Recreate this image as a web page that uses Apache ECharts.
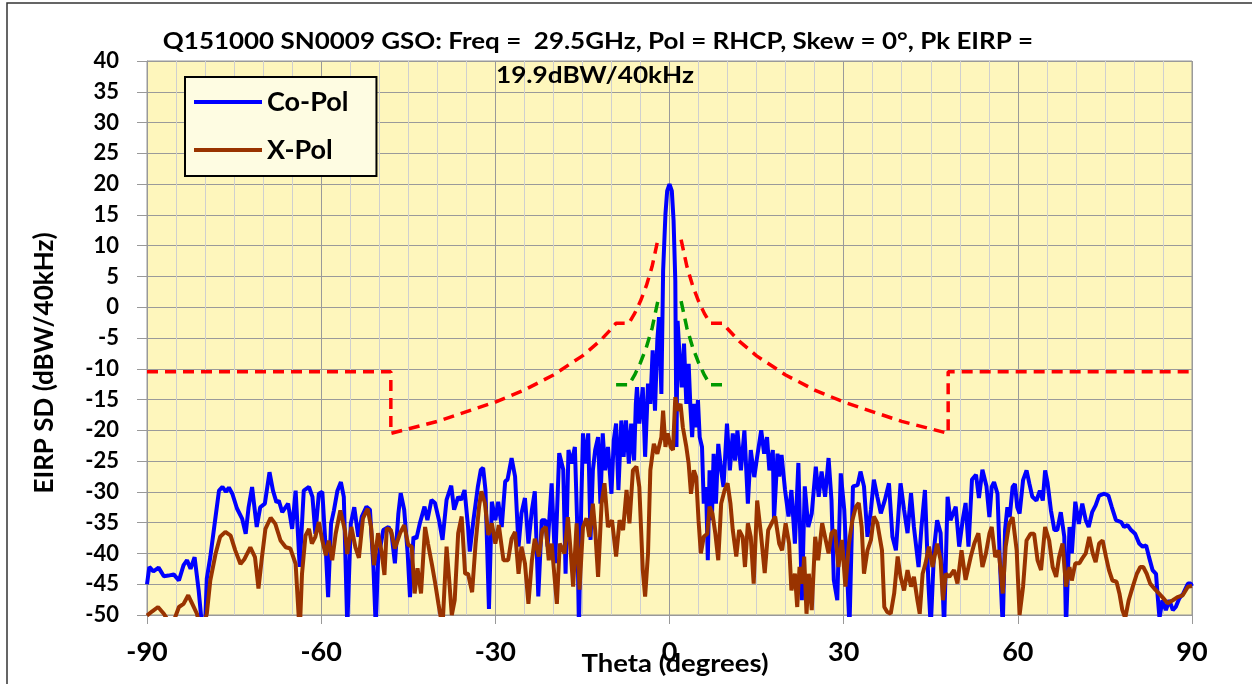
<!DOCTYPE html>
<html>
<head>
<meta charset="utf-8">
<script src="https://cdn.jsdelivr.net/npm/echarts@6/dist/echarts.min.js"></script>
<style>
html,body{margin:0;padding:0;background:#fff;}
#chart{width:1252px;height:684px;}
</style>
</head>
<body>
<div id="chart"></div>
<script>
// ---------- DATA ----------
const titleLine1 = 'Q151000 SN0009 GSO: Freq =  29.5GHz, Pol = RHCP, Skew = 0°, Pk EIRP =';
const titleLine2 = '19.9dBW/40kHz';
const xAxisTitle = 'Theta (degrees)';
const yAxisTitle = 'EIRP SD (dBW/40kHz)';
const seriesNames = ['Co-Pol', 'X-Pol'];

const coPolTheta = [-90,-89.6,-88.9,-88,-87.1,-86.3,-85.4,-84.5,-83.7,-83.1,-82.5,-81.8,-81.1,-80.5,-80,-79.7,-79.1,-78.2,-77.6,-77,-76.4,-75.9,-75.3,-74.5,-73.6,-73,-72.5,-71.9,-71.1,-70.5,-69.7,-68.9,-68.3,-67.7,-67.3,-66.7,-65.7,-65,-64.4,-63.7,-63,-62.1,-61.5,-61,-60.4,-59.8,-59.2,-58.8,-58.3,-57.8,-57.2,-56.6,-56.1,-55.5,-54.9,-54.3,-53.6,-53,-52.2,-51.6,-51,-50.6,-50.2,-49.3,-48.4,-47.9,-47.3,-46.7,-46.3,-45.7,-45.1,-44.7,-44.1,-43.6,-43,-42.2,-41.7,-41,-40.4,-39.7,-39.1,-38.4,-37.6,-37.1,-36.4,-35.9,-35.3,-34.7,-34.4,-33.8,-33,-32.5,-32.1,-31.7,-31.1,-30.6,-30,-29.5,-28.9,-28.3,-27.9,-27.2,-26.6,-26,-25.5,-24.9,-24.3,-23.7,-23.2,-22.6,-22,-21.4,-21,-20.3,-19.7,-19,-18.3,-17.9,-17.4,-16.9,-16.3,-15.9,-15.6,-15.2,-14.9,-14.5,-14,-13.6,-13.2,-12.8,-12.3,-11.9,-11.5,-11.1,-10.6,-10,-9.6,-9.2,-8.8,-8.3,-7.9,-7.5,-7,-6.6,-6.1,-5.8,-5.6,-5.2,-4.6,-4.2,-3.7,-3.3,-2.9,-2.5,-2.1,-1.8,-1.4,-1.1,-0.7,-0.4,0,0.4,0.7,1,1.2,1.4,1.8,2.1,2.5,2.9,3.3,3.6,3.9,4.2,4.6,4.9,5.2,5.6,5.9,6.3,6.6,6.9,7.3,7.6,8,8.4,8.9,9.3,9.9,10.4,10.9,11.3,11.7,12.3,12.9,13.5,14,14.6,15.1,15.8,16.3,16.8,17.2,17.8,18,18.6,18.9,19.3,19.9,20.5,21,21.6,22.2,22.8,23.3,23.9,24.5,25.2,25.7,26.2,26.8,27.4,27.9,28.3,28.9,29.5,30.1,30.6,31,31.6,32.4,32.9,33.5,34.1,34.7,35.2,35.8,36.4,37.1,37.8,38.4,39,39.8,40.4,41,41.6,42.1,42.9,43.4,44,44.6,45,45.6,46.1,46.7,47.3,47.9,48.4,49.3,49.9,50.5,51,51.5,52.1,52.8,53.3,53.9,54.6,55.1,55.5,55.9,56.5,56.9,57.4,57.8,58.2,58.6,59.1,59.5,59.9,60.3,60.9,61.5,62,62.5,63.2,63.8,64.3,64.7,65.1,65.7,66.3,66.8,67.4,68,68.3,68.9,69.3,69.9,70.5,71.1,71.7,72.2,72.8,73.4,74,74.9,75.6,76.2,76.9,77.8,78.3,78.9,79.5,80.2,80.9,81.5,82.1,82.6,83.2,83.8,84.1,84.4,84.9,85.5,86.1,86.7,87.2,87.8,88.5,89.3,89.8,90];
const coPolEirp = [-45,-42.2,-42.9,-42.3,-43.7,-43.6,-43.4,-44.4,-41.9,-41.1,-42.5,-40.6,-46,-52,-52,-44.1,-40.6,-34.1,-29.8,-29.2,-30,-29.3,-30.3,-32.7,-34.4,-36.8,-32.5,-29.2,-35.7,-32.5,-31.9,-26.8,-29.8,-31.7,-31.4,-33.3,-31.9,-36,-29.8,-42.2,-29.8,-29.2,-30.8,-36.8,-30.3,-30,-39.5,-47.1,-35.2,-33,-29.8,-28.4,-30.8,-52,-35.2,-32.5,-37.3,-34,-32.4,-32.9,-42.2,-52,-41.1,-36.2,-35.7,-36.7,-41.6,-33.5,-30.2,-32.9,-40,-47.1,-37.3,-37.6,-35.1,-32.4,-34.6,-31.3,-31.8,-34.6,-37.8,-31.3,-29,-32.9,-30.8,-31.3,-29.7,-35.7,-39.7,-34.8,-29.1,-26.4,-26.1,-29.7,-49,-31.6,-34.6,-31.6,-35.7,-28.3,-28,-24.5,-27.5,-38.9,-33.5,-31,-38.4,-32.9,-29.9,-47,-34.6,-34.6,-38.9,-28.6,-41.6,-23.7,-26.4,-43.3,-23.2,-25.4,-22.7,-35.1,-52,-31.9,-20.5,-25.4,-20.5,-37.8,-26.5,-23.2,-21.1,-31.9,-20.5,-26.5,-22.7,-30.3,-21.6,-18.9,-29.7,-18.4,-24.3,-18.4,-25.4,-18.9,-24.9,-15.7,-13,-18.9,-13,-24.3,-12.4,-15.7,-7,-16.8,-5.4,-1.6,-14.1,5.9,15.1,18.9,20,18.9,14.1,4.3,-22.7,-2.2,-9.2,-13,-5.9,-15.7,-9.2,-16.2,-21.1,-15.7,-19.5,-15.1,-21.1,-22.7,-31.9,-29.2,-41.1,-26.5,-34.6,-23.8,-31.9,-22.2,-26.5,-29.2,-18.9,-26.5,-20.5,-24.9,-20,-26.5,-20,-31.9,-23.2,-27.6,-24.3,-20,-23.8,-21.1,-26.5,-23.2,-34.6,-23.8,-27.5,-24,-29.7,-34,-29.7,-38.4,-25.3,-47.6,-29.1,-35.7,-33.5,-25.9,-30.8,-26.7,-30.8,-24.5,-31.3,-44.3,-47.6,-27,-32.9,-43.3,-52,-29.1,-28.9,-26.7,-29.1,-37.3,-32.9,-28,-30.8,-33.5,-31.3,-28.6,-37.3,-39.5,-28.6,-32.9,-36.7,-30.2,-35.7,-42.2,-35.7,-29.7,-44.9,-52,-38.9,-34.6,-36.7,-52,-30.8,-34.6,-32.4,-38.9,-34.6,-31.8,-38.9,-28,-27.2,-31,-26.4,-29.1,-34.1,-29.2,-28.4,-30.3,-41.1,-52,-36.2,-32.5,-34.1,-29.2,-28.7,-32.5,-33.5,-28.1,-26.5,-28.7,-30.8,-31.4,-29.8,-31.4,-26.5,-28.4,-33,-36.2,-36.2,-33.3,-37.3,-52,-35.7,-40,-31.6,-35.2,-31.9,-34.6,-35.7,-33.3,-32.2,-30.6,-30.3,-30.6,-32.5,-34.6,-34.9,-35.7,-35.4,-36.2,-36.8,-38.4,-38.9,-38.7,-40.6,-42.7,-43.3,-47.1,-50.5,-47.6,-49.2,-47.6,-49.2,-48.7,-47.3,-46.5,-44.9,-44.9,-45.3];

const xPolTheta = [-90,-89.1,-88.1,-87.1,-86.3,-85.4,-84.5,-83.7,-82.9,-82.2,-81.4,-80.6,-79.7,-79.1,-78.2,-77.4,-76.5,-75.6,-74.8,-73.9,-73.2,-72.2,-71.4,-70.8,-70.2,-69.6,-68.7,-67.9,-67,-66.1,-65.3,-64.4,-63.7,-63.3,-62.7,-62.1,-61.6,-61,-60.4,-59.8,-59.2,-58.7,-58.1,-57.5,-56.7,-55.9,-55.5,-54.8,-54.1,-53.5,-52.8,-52,-51.4,-50.9,-50.2,-49.6,-49.1,-48.7,-48,-47.3,-46.4,-45.7,-45,-44.4,-43.9,-43.4,-42.8,-42.1,-41.6,-40.9,-40.4,-39.8,-39.1,-38.4,-37.9,-37.5,-37,-36.4,-35.8,-35.2,-34.7,-34,-33.4,-32.8,-32.4,-31.8,-31.2,-30.6,-30,-29.4,-28.6,-27.8,-27.2,-26.6,-26,-25.5,-24.9,-24.3,-23.7,-23.2,-22.5,-21.9,-21.3,-20.8,-20.3,-19.4,-18.9,-18.1,-17.5,-17,-16.6,-16,-15.5,-14.9,-14.3,-13.8,-13.2,-12.8,-12.3,-11.7,-11.2,-10.6,-9.9,-9.2,-8.6,-8,-7.4,-6.9,-6.3,-5.7,-5.2,-4.6,-4.2,-3.7,-3.3,-2.7,-2.1,-1.4,-1.1,-0.7,-0.3,0.2,0.6,1,1.4,1.9,2.3,2.9,3.3,3.7,4.2,4.6,5,5.4,5.9,6.5,6.9,7.4,7.9,8.4,8.9,9.5,10,10.5,10.9,11.5,12,12.6,13,13.5,14,14.5,15.1,15.8,16.4,17,17.6,18.2,18.9,19.4,20,20.6,21,21.6,22,22.4,22.9,23.2,23.6,24,24.5,25.1,25.6,26.3,26.9,27.4,27.9,28.5,29.1,29.7,30.3,30.9,31.5,32.1,32.6,33.1,33.5,34.1,34.7,35.2,35.8,36.6,37,37.5,38.1,38.7,39.3,39.8,40.4,41,41.6,42.1,42.7,43.1,43.6,44.1,44.7,45.3,46.1,46.7,47.1,47.6,48.2,49,49.6,50.3,51,51.9,52.5,53.2,53.9,54.5,55.1,55.5,56.1,56.7,57.4,57.9,58.5,59.1,59.8,60.3,60.9,61.5,62.2,62.8,63.4,64,64.7,65.4,66,66.6,67.1,67.7,68.3,68.9,69.3,69.9,70.6,71.1,71.7,72.3,72.9,73.4,74,74.6,75.2,75.7,76.3,77,77.5,78,78.5,79.1,79.8,80.5,81.1,81.6,82.2,82.8,83.5,84.3,84.9,85.8,86.7,87.5,88.4,89.3,90];
const xPolEirp = [-50.1,-49.4,-48.7,-49.8,-51,-51,-48.7,-48.2,-46.8,-48.2,-49.8,-53,-49.8,-44.4,-40.1,-37.3,-36.5,-37.1,-39.5,-41.7,-40.9,-39,-40.6,-45.7,-40.6,-36,-34.2,-35.2,-37.9,-39,-39.2,-41.7,-53,-43.3,-37.1,-36,-38.4,-37.3,-34.9,-37.9,-40.3,-37.9,-41.1,-36.8,-33,-36.3,-40.1,-35.7,-39,-40.7,-34.3,-32.7,-35.7,-41.9,-36.7,-39.7,-43.5,-35.9,-36.2,-39.2,-36.7,-35.4,-38.6,-38.9,-46.5,-42.4,-46.5,-35.7,-38.4,-41.9,-44.6,-48.2,-52,-38.9,-44.9,-50,-47.6,-36.7,-34,-43.3,-43.3,-46.3,-38.4,-32.4,-29.9,-31.8,-37,-35.1,-38.4,-35.4,-41.1,-41.1,-37.6,-36.5,-43.3,-38.9,-41.6,-48.2,-41.1,-37.6,-40.5,-36.2,-35.7,-41.1,-38.4,-48.2,-38.4,-40,-34.1,-40,-45.4,-35.1,-45.9,-35.7,-34.3,-37.3,-31.9,-36.2,-43.8,-31.9,-28.6,-35.7,-34.6,-40.5,-34.6,-36.2,-29.7,-35.1,-26.5,-25.9,-29.2,-42.7,-47,-40,-26.5,-22.2,-23.8,-21.1,-16.8,-22.7,-20.5,-22.7,-23.2,-14.6,-16.8,-15.7,-19.5,-22.7,-25.4,-30.3,-26.5,-27.6,-34.6,-40,-37.3,-36.8,-32.4,-33.5,-36.8,-41.1,-31.9,-29.7,-28.6,-31.9,-36.2,-40.5,-36.2,-37.3,-42.2,-35.1,-37.3,-44.9,-31.4,-37.3,-43.2,-36.2,-35.1,-34,-38.4,-39.5,-35.1,-38.4,-46,-43.3,-48.7,-42.2,-44.9,-40.5,-49.8,-43.3,-49.2,-37.3,-41.1,-35.1,-37.8,-40,-36.7,-36.2,-42.2,-37.8,-45.4,-38.4,-34.6,-32.4,-31.8,-35.7,-43.3,-39.5,-37.8,-34,-35.1,-39.5,-48.7,-49.5,-49.8,-46.5,-40.5,-43.8,-46,-42.7,-45.4,-43.8,-47.6,-49.8,-43.3,-41.6,-38.9,-42.2,-38.4,-41.1,-47.6,-43.3,-43.8,-42.7,-44.9,-39.5,-44.3,-40.5,-38.4,-36.7,-42.2,-40,-36.8,-35.7,-40.6,-39.5,-46.5,-38.9,-35.2,-34.1,-39.5,-50,-45.4,-37.9,-36.8,-36.8,-41.1,-42.7,-35.7,-37.9,-42.2,-43.8,-40.6,-38.4,-45.4,-42.2,-44.4,-41.6,-41.6,-40.8,-40,-37.3,-40,-41.4,-38.4,-37.9,-40.6,-42.7,-44.4,-44.6,-46.5,-49.2,-50.5,-47.6,-45.4,-43.3,-42.2,-42.2,-43.3,-44.9,-45.7,-46.5,-47.1,-48.1,-47.6,-47.1,-46.8,-45.4,-45.3];

// Co-pol mask (red dashed), left and right branches
const coMaskLeftTheta  = [-90,-48,-48,-40,-30,-25,-20,-15,-12,-10,-9.2,-7,-6,-5,-4,-3,-2];
const coMaskLeftLevel  = [-10.5,-10.5,-20.5,-18.55,-15.4,-13.45,-11.0,-7.9,-5.5,-3.5,-2.6,-2.6,-1.0,1.0,3.45,6.6,11.0];
const coMaskRightTheta = [2,3,4,5,6,7,9.2,10,12,15,20,25,30,40,48,48,90];
const coMaskRightLevel = [11.0,6.6,3.45,1.0,-1.0,-2.6,-2.6,-3.5,-5.5,-7.9,-11.0,-13.45,-15.4,-18.55,-20.5,-10.5,-10.5];
// X-pol mask (green dashed)
const xMaskLeftTheta  = [-9.2,-7,-6,-5,-4,-3,-2];
const xMaskLeftLevel  = [-12.6,-12.6,-11.0,-9.0,-6.55,-3.4,1.0];
const xMaskRightTheta = [2,3,4,5,6,7,9.2];
const xMaskRightLevel = [1.0,-3.4,-6.55,-9.0,-11.0,-12.6,-12.6];

// ---------- BUILD ----------
function pairs(xs, ys){ return xs.map((x,i)=>[x, ys[i]]); }
const FONT = 'Lato, "Open Sans", "DejaVu Sans", sans-serif';

const chart = echarts.init(document.getElementById('chart'), null, {renderer:'canvas'});

const maskStyle = (color)=>({
  type:'line', showSymbol:false, symbol:'none', animation:false, silent:true,
  lineStyle:{color:color, width:3.5, type:[11,7]}, itemStyle:{color:color}, z:2
});

chart.setOption({
  backgroundColor:'#ffffff',
  animation:false,
  graphic:[
    {type:'rect', shape:{x:7,y:3,width:1300,height:720}, style:{fill:null, stroke:'#333', lineWidth:1.5}, z:0, silent:true},
    {type:'text', x:598, y:42, scaleX:1.18, style:{text:titleLine1, font:'bold 22px '+FONT, fill:'#000', textAlign:'center', textVerticalAlign:'middle'}, z:10},
    {type:'text', x:595, y:76, scaleX:1.19, style:{text:titleLine2, font:'bold 22px '+FONT, fill:'#000', textAlign:'center', textVerticalAlign:'middle'}, z:10},
    {type:'text', x:675, y:664, scaleX:1.1, style:{text:xAxisTitle, font:'bold 25px '+FONT, fill:'#000', textAlign:'center', textVerticalAlign:'middle'}, z:10},
    {type:'text', x:45, y:363, rotation:Math.PI/2, style:{text:yAxisTitle, font:'bold 26px '+FONT, fill:'#000', textAlign:'center', textVerticalAlign:'middle'}, z:10}
  ],
  grid:{left:147, top:61, width:1045, height:554, show:true, backgroundColor:'#FEF6BC', borderColor:'#999', borderWidth:1},
  legend:{
    data:seriesNames, orient:'vertical', left:185, top:77,
    backgroundColor:'#FEFCE2', borderColor:'#000', borderWidth:2,
    padding:[10,28,11,9], itemWidth:68, itemHeight:4, itemGap:18, icon:'rect',
    textStyle:{fontFamily:FONT, fontWeight:'bold', fontSize:27, color:'#000', lineHeight:30}
  },
  xAxis:{
    type:'value', min:-90, max:90, interval:30, splitNumber:6,
    axisLine:{show:true, onZero:false, lineStyle:{color:'#999', width:1}},
    axisTick:{show:true, length:9, lineStyle:{color:'#999'}},
    axisLabel:{fontFamily:FONT, fontWeight:'bold', fontSize:27, color:'#000', margin:24},
    splitLine:{show:true, lineStyle:{color:'#9a9a9a', width:1}},
    minorTick:{show:false, splitNumber:6},
    minorSplitLine:{show:true, lineStyle:{color:'#cfcfcf', width:1}}
  },
  yAxis:{
    type:'value', min:-50, max:40, interval:5,
    axisLine:{show:true, onZero:false, lineStyle:{color:'#999', width:1}},
    axisTick:{show:true, length:10, lineStyle:{color:'#999'}},
    axisLabel:{fontFamily:FONT, fontWeight:'bold', fontSize:22, color:'#000', margin:28},
    splitLine:{show:true, lineStyle:{color:'#9a9a9a', width:1}}
  },
  series:[
    Object.assign({name:'mask1', data:pairs(coMaskLeftTheta, coMaskLeftLevel)}, maskStyle('#FF0000')),
    Object.assign({name:'mask2', data:pairs(coMaskRightTheta, coMaskRightLevel)}, maskStyle('#FF0000')),
    Object.assign({name:'mask3', data:pairs(xMaskLeftTheta, xMaskLeftLevel)}, maskStyle('#009900')),
    Object.assign({name:'mask4', data:pairs(xMaskRightTheta, xMaskRightLevel)}, maskStyle('#009900')),
    {name:seriesNames[0], type:'line', data:pairs(coPolTheta, coPolEirp), showSymbol:false, symbol:'none', clip:true,
     lineStyle:{color:'#0000FF', width:4}, itemStyle:{color:'#0000FF'}, z:3},
    {name:seriesNames[1], type:'line', data:pairs(xPolTheta, xPolEirp), showSymbol:false, symbol:'none', clip:true,
     lineStyle:{color:'#993300', width:4}, itemStyle:{color:'#993300'}, z:4}
  ]
});
</script>
</body>
</html>
